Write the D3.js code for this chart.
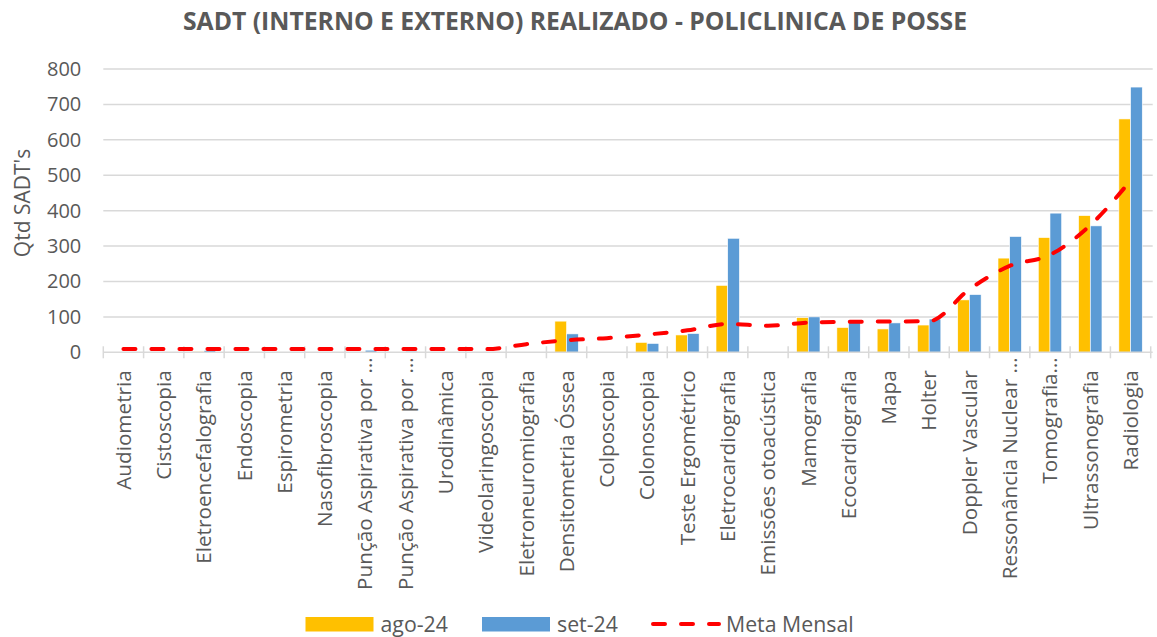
<!DOCTYPE html>
<html>
<head>
<meta charset="utf-8">
<script src="https://cdn.jsdelivr.net/npm/d3@7"></script>
<style>
  body { margin: 0; background: #fff; }
  text { font-family: 'Open Sans', sans-serif; fill: #595959; }
</style>
</head>
<body>
<div id="chart"></div>
<script>
const categories = [
  'Audiometria', 'Cistoscopia', 'Eletroencefalografia', 'Endoscopia', 'Espirometria',
  'Nasofibroscopia', 'Punção Aspirativa por …', 'Punção Aspirativa por …', 'Urodinâmica',
  'Videolaringoscopia', 'Eletroneuromiografia', 'Densitometria Óssea', 'Colposcopia',
  'Colonoscopia', 'Teste Ergométrico', 'Eletrocardiografia', 'Emissões otoacústica',
  'Mamografia', 'Ecocardiografia', 'Mapa', 'Holter', 'Doppler Vascular',
  'Ressonância Nuclear …', 'Tomografia…', 'Ultrassonografia', 'Radiologia'
];
const ago24 = [0, 0, 2, 0, 0, 0, 0, 0, 0, 0, 0, 88, 0, 28, 49, 189, 0, 98, 70, 66, 77, 148, 266, 324, 386, 659];
const set24 = [0, 0, 5, 0, 0, 0, 6, 3, 0, 0, 0, 52, 0, 25, 53, 322, 0, 100, 84, 83, 94, 163, 327, 393, 357, 749];
const metaMensal = [9, 9, 9, 9, 9, 9, 9, 9, 9, 9, 23, 34, 40, 50, 62, 80, 75, 84, 86, 87, 88, 178, 244, 275, 359, 485];
const yTicks = [0, 100, 200, 300, 400, 500, 600, 700, 800];
const seriesNames = ['ago-24', 'set-24'];
const colors = { 'ago-24': '#FFC000', 'set-24': '#5B9BD5', meta: '#FF0000' };

const width = 1157, height = 637;
const margin = { top: 69, right: 6.3, bottom: 285, left: 103.3 };

const svg = d3.select('#chart').append('svg')
  .attr('width', width).attr('height', height)
  .attr('viewBox', [0, 0, width, height]);

// title
svg.append('text')
  .attr('x', 575).attr('y', 30)
  .attr('text-anchor', 'middle')
  .attr('textLength', 784).attr('lengthAdjust', 'spacingAndGlyphs')
  .style('font-size', '25px').style('font-weight', 'bold')
  .text('SADT (INTERNO E EXTERNO) REALIZADO - POLICLINICA DE POSSE');

const x0 = d3.scaleBand()
  .domain(d3.range(categories.length))
  .range([margin.left, width - margin.right]);
const band = x0.bandwidth();
const barW = 11.7;
const x1 = d3.scaleBand().domain(seriesNames).range([band / 2 - barW, band / 2 + barW]);

const y = d3.scaleLinear().domain([0, 800]).range([352.3, margin.top]);

// gridlines
svg.append('g')
  .selectAll('line')
  .data(yTicks.filter(d => d > 0))
  .enter().append('line')
  .attr('x1', margin.left).attr('x2', width - margin.right + 2)
  .attr('y1', d => y(d)).attr('y2', d => y(d))
  .attr('stroke', '#d9d9d9').attr('stroke-width', 1.5);

// y axis labels
const yAxis = svg.append('g')
  .attr('transform', `translate(${margin.left},0)`)
  .call(d3.axisLeft(y).tickValues(yTicks).tickSize(0).tickPadding(22));
yAxis.select('.domain').remove();
yAxis.selectAll('text')
  .style('font-size', '20px').style('font-family', "'Open Sans', sans-serif")
  .attr('fill', '#595959');

svg.append('text')
  .attr('transform', 'translate(23,203) rotate(-90)')
  .attr('text-anchor', 'middle')
  .attr('dy', '0.35em')
  .style('font-size', '21px')
  .text("Qtd SADT's");

// bars
const groups = svg.append('g').selectAll('g')
  .data(categories.map((c, i) => ({ i, vals: [ago24[i], set24[i]] })))
  .enter().append('g')
  .attr('transform', d => `translate(${x0(d.i)},0)`);

groups.selectAll('rect')
  .data(d => d.vals.map((v, k) => ({ key: seriesNames[k], v })))
  .enter().append('rect')
  .filter(d => d.v > 0)
  .attr('x', d => x1(d.key))
  .attr('y', d => y(d.v))
  .attr('width', x1.bandwidth())
  .attr('height', d => y(0) - y(d.v))
  .attr('fill', d => colors[d.key])
  .attr('stroke', '#fff').attr('stroke-width', 0.6);

// x axis
const xAxis = svg.append('g')
  .attr('transform', `translate(0,${y(0)})`);
xAxis.append('line')
  .attr('x1', margin.left).attr('x2', width - margin.right + 2)
  .attr('stroke', '#d9d9d9').attr('stroke-width', 1.5);
xAxis.selectAll('.tk')
  .data(d3.range(categories.length + 1))
  .enter().append('line')
  .attr('class', 'tk')
  .attr('x1', d => margin.left + d * band).attr('x2', d => margin.left + d * band)
  .attr('y1', -6).attr('y2', 6)
  .attr('stroke', '#d9d9d9').attr('stroke-width', 1.5);
// truncated labels: the ellipsis pokes up past the others, as in Excel
xAxis.selectAll('.lbl')
  .data(categories)
  .enter().append('text')
  .attr('class', 'lbl')
  .attr('transform', (d, i) => `translate(${x0(i) + band / 2},${d.endsWith('…') ? 5 : 18}) rotate(-90)`)
  .attr('text-anchor', 'end')
  .attr('dy', '0.35em')
  .style('font-size', '20.7px')
  .text(d => d);

// meta line
const line = d3.line()
  .x((d, i) => x0(i) + band / 2)
  .y(d => y(d))
  .curve(d3.curveMonotoneX);
svg.append('path')
  .datum(metaMensal)
  .attr('d', line)
  .attr('fill', 'none')
  .attr('stroke', colors.meta)
  .attr('stroke-width', 4)
  .attr('stroke-linecap', 'round')
  .attr('stroke-dasharray', '12,16');

// legend
const legend = svg.append('g');
const legItems = [
  { name: 'ago-24', type: 'rect', x: 305.5 },
  { name: 'set-24', type: 'rect', x: 482 },
  { name: 'Meta Mensal', type: 'line', x: 651 }
];
legItems.forEach(it => {
  if (it.type === 'rect') {
    legend.append('rect')
      .attr('x', it.x).attr('y', 617)
      .attr('width', 68).attr('height', 14.5)
      .attr('fill', colors[it.name]);
  } else {
    legend.append('line')
      .attr('x1', it.x + 2).attr('x2', it.x + 68)
      .attr('y1', 624).attr('y2', 624)
      .attr('stroke', colors.meta).attr('stroke-width', 4)
      .attr('stroke-linecap', 'round')
      .attr('stroke-dasharray', '12,16');
  }
  legend.append('text')
    .attr('x', it.x + 75).attr('y', 631.5)
    .style('font-size', '21.3px')
    .text(it.name);
});
</script>
</body>
</html>
